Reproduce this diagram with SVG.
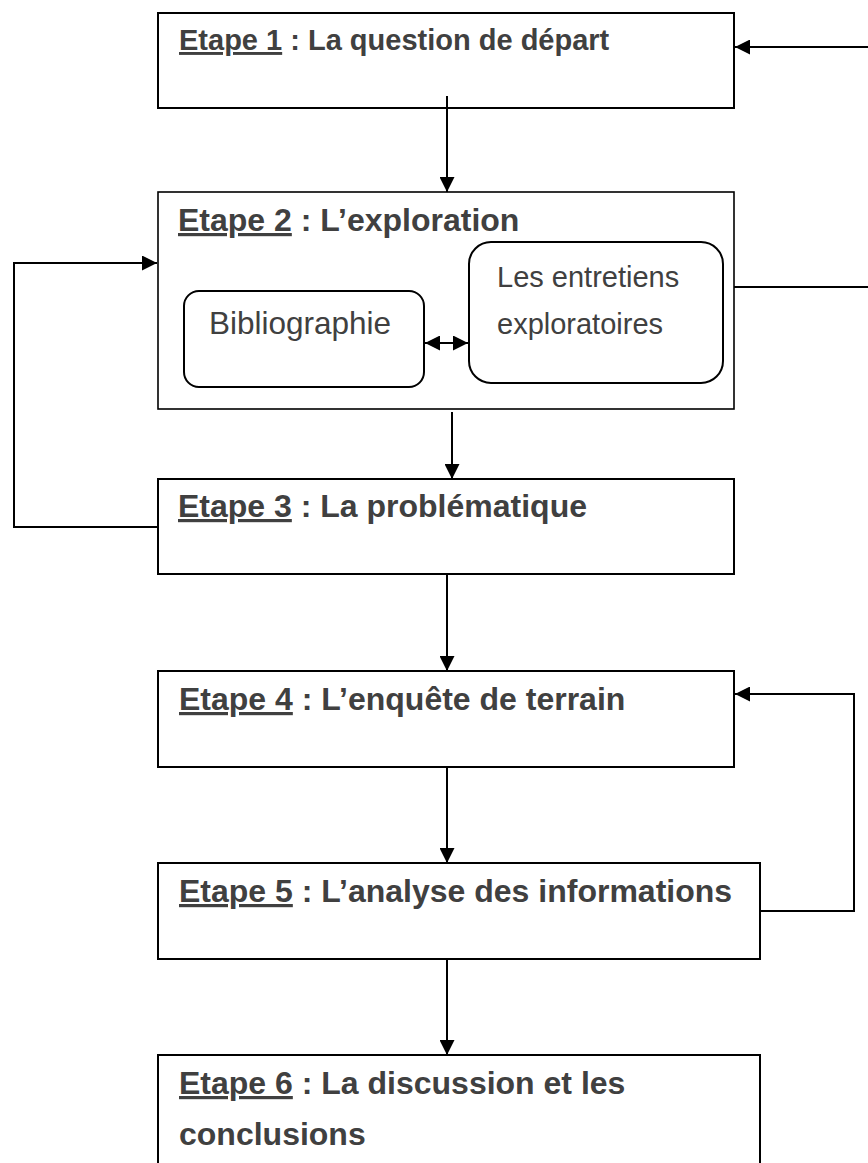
<svg xmlns="http://www.w3.org/2000/svg" width="868" height="1163" viewBox="0 0 868 1163">
<style>
.box{fill:#fff;stroke:#000;stroke-width:2}
.rbox{fill:#fff;stroke:#000;stroke-width:2}
.t{font-family:"Liberation Sans",Arial,sans-serif;font-weight:bold;font-size:32px;fill:#404040}
.t1{font-size:29px}
.r{font-family:"Liberation Sans",Arial,sans-serif;font-size:29px;fill:#404040}
.u{text-decoration:underline}
.c{fill:none;stroke:#000;stroke-width:2}
</style>
<defs>
<marker id="ah" markerUnits="userSpaceOnUse" markerWidth="16" markerHeight="15" refX="15" refY="7.5" orient="auto-start-reverse">
<path d="M0,0 L15,7.5 L0,15 z" fill="#000"/>
</marker>
</defs>
<rect width="868" height="1163" fill="#fff"/>
<g id="etape1">
<rect class="box" x="158" y="13" width="576" height="95"/>
<text class="t t1" x="179" y="50"><tspan class="u">Etape 1</tspan> : La question de départ</text>
</g>
<g id="etape2">
<rect class="box" x="158" y="192" width="576" height="217" style="stroke-width:1.6"/>
<text class="t" x="178" y="231"><tspan class="u">Etape 2</tspan> : L’exploration</text>
</g>
<g id="bibliographie">
<rect class="rbox" x="184" y="291" width="240" height="96" rx="15" ry="15"/>
<text class="r" x="209" y="334" style="font-size:31.5px">Bibliographie</text>
</g>
<g id="entretiens">
<rect class="rbox" x="469" y="242" width="254" height="141" rx="22" ry="22"/>
<text class="r" x="497" y="287">Les entretiens</text>
<text class="r" x="497" y="334">exploratoires</text>
</g>
<g id="etape3">
<rect class="box" x="158" y="479" width="576" height="95"/>
<text class="t" x="178" y="517"><tspan class="u">Etape 3</tspan> : La problématique</text>
</g>
<g id="etape4">
<rect class="box" x="158" y="671" width="576" height="96"/>
<text class="t" x="179" y="710"><tspan class="u">Etape 4</tspan> : L’enquête de terrain</text>
</g>
<g id="etape5">
<rect class="box" x="158" y="863" width="602" height="96"/>
<text class="t" x="179" y="902"><tspan class="u">Etape 5</tspan> : L’analyse des informations</text>
</g>
<g id="etape6">
<rect class="box" x="158" y="1055" width="602" height="130"/>
<text class="t" x="179" y="1094"><tspan class="u">Etape 6</tspan> : La discussion et les</text>
<text class="t" x="179" y="1145">conclusions</text>
</g>
<g id="connectors">
<line class="c" x1="447" y1="96" x2="447" y2="192" marker-end="url(#ah)"/>
<line class="c" x1="868" y1="47" x2="735" y2="47" marker-end="url(#ah)"/>
<line class="c" x1="734" y1="287" x2="868" y2="287"/>
<line class="c" x1="425" y1="343" x2="468" y2="343" marker-start="url(#ah)" marker-end="url(#ah)"/>
<line class="c" x1="452" y1="412" x2="452" y2="479" marker-end="url(#ah)"/>
<polyline class="c" points="158,527 14,527 14,263 157,263" marker-end="url(#ah)"/>
<line class="c" x1="447" y1="574" x2="447" y2="671" marker-end="url(#ah)"/>
<line class="c" x1="447" y1="767" x2="447" y2="863" marker-end="url(#ah)"/>
<polyline class="c" points="760,911 854,911 854,694 735,694" marker-end="url(#ah)"/>
<line class="c" x1="447" y1="959" x2="447" y2="1055" marker-end="url(#ah)"/>
</g>
</svg>
